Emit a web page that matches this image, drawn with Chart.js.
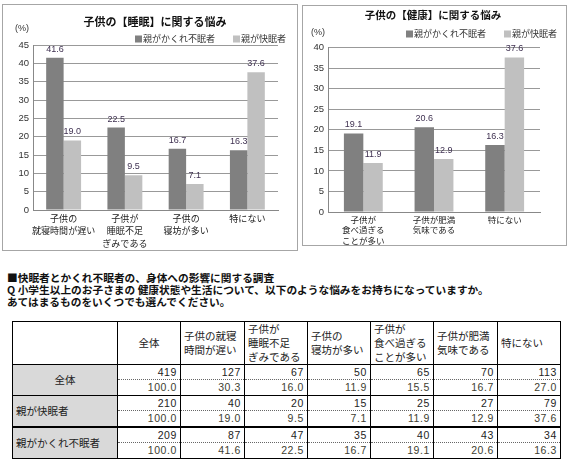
<!DOCTYPE html>
<html lang="ja">
<head>
<meta charset="utf-8">
<title>子供の悩み</title>
<script src="https://cdn.jsdelivr.net/npm/chart.js@4.4.1/dist/chart.umd.min.js"></script>
<style>
  body { margin: 0; width: 570px; height: 467px; background: #fff; position: relative; overflow: hidden;
         font-family: 'Liberation Sans', 'Noto Sans CJK JP', sans-serif; }
  .box { position: absolute; border: 1px solid #a6a6a6; background: #fff; }
  .box canvas { display: block; }
  #box1 { left: 2px; top: 4px; width: 294px; height: 245px; }
  #box2 { left: 302px; top: 5px; width: 263px; height: 239px; }
  .note { position: absolute; left: 7px; top: 272px; font-family: 'Noto Sans CJK JP', sans-serif;
          font-size: 10.7px; line-height: 12px; font-weight: bold; color: #111; white-space: nowrap; }
  #tbl { position: absolute; left: 12px; top: 321px; width: 548px; border-collapse: collapse; table-layout: fixed;
         font-size: 10.5px; color: #222; }
  #tbl td { border: 1px solid #000; padding: 0 3px; height: 14px; line-height: 13px; white-space: nowrap; }
  #tbl tr.head td { height: 40px; line-height: 14px; vertical-align: middle; }
  #tbl td.center { text-align: center; }
  #tbl td.side { background: #d9d9d9; }
  #tbl td.num { text-align: right; letter-spacing: 0.6px; }
  #tbl tr.cnt td.num { border-bottom: 1px dotted #666; }
  #tbl tr.pct td.num { border-top: 1px dotted #666; height: 15px; color: #404030; }
  #tbl tr.thick td { border-top: 2px solid #000; }
</style>
</head>
<body>
<div class="box" id="box1"><canvas id="sleepChart" width="294" height="245"></canvas></div>
<div class="box" id="box2"><canvas id="healthChart" width="263" height="239"></canvas></div>
<div class="note">■快眠者とかくれ不眠者の、身体への影響に関する調査<br>Q 小学生以上のお子さまの 健康状態や生活について、以下のような悩みをお持ちになっていますか。<br>あてはまるものをいくつでも選んでください。</div>
<table id="tbl"></table>
<script>
// データ
var seriesNames = ['親がかくれ不眠者', '親が快眠者'];
var seriesColors = ['#808080', '#c0c0c0'];

var sleepLabels = [['子供の', '就寝時間が遅い'], ['子供が', '睡眠不足', 'ぎみである'], ['子供の', '寝坊が多い'], '特にない'];
var sleepHidden = [41.6, 22.5, 16.7, 16.3];
var sleepGood = [19.0, 9.5, 7.1, 37.6];
var sleepMax = 45;

var healthLabels = [['子供が', '食べ過ぎる', 'ことが多い'], ['子供が肥満', '気味である'], '特にない'];
var healthHidden = [19.1, 20.6, 16.3];
var healthGood = [11.9, 12.9, 37.6];
var healthMax = 40;

var tickStep = 5;

var tableHead = ['全体', '子供の就寝<br>時間が遅い', '子供が<br>睡眠不足<br>ぎみである', '子供の<br>寝坊が多い',
                 '子供が<br>食べ過ぎる<br>ことが多い', '子供が肥満<br>気味である', '特にない'];
var groupNames = ['全体', '親が快眠者', '親がかくれ不眠者'];
var allCount = [419, 127, 67, 50, 65, 70, 113];
var allPct = [100.0, 30.3, 16.0, 11.9, 15.5, 16.7, 27.0];
var goodCount = [210, 40, 20, 15, 25, 27, 79];
var goodPct = [100.0, 19.0, 9.5, 7.1, 11.9, 12.9, 37.6];
var hiddenCount = [209, 87, 47, 35, 40, 43, 34];
var hiddenPct = [100.0, 41.6, 22.5, 16.7, 19.1, 20.6, 16.3];


// 棒の上の数値
var valueLabels = {
  id: 'valueLabels',
  afterDatasetsDraw: function(chart) {
    var ctx = chart.ctx;
    ctx.save();
    ctx.font = '9px "Liberation Sans"';
    ctx.fillStyle = '#3f3151';
    ctx.textAlign = 'center';
    ctx.textBaseline = 'bottom';
    chart.data.datasets.forEach(function(ds, i) {
      chart.getDatasetMeta(i).data.forEach(function(bar, j) {
        ctx.fillText(ds.data[j].toFixed(1), bar.x, bar.y - 4);
      });
    });
    ctx.restore();
  }
};

// 凡例と (%) 表示
var boxLegend = {
  id: 'boxLegend',
  afterDraw: function(chart, args, opts) {
    var ctx = chart.ctx;
    var sets = chart.data.datasets;
    ctx.save();
    ctx.font = '9px "Noto Sans CJK JP"';
    ctx.textBaseline = 'middle';
    var x = opts.right;
    for (var i = sets.length - 1; i >= 0; i--) {
      x -= ctx.measureText(sets[i].label).width;
      ctx.fillStyle = '#333';
      ctx.fillText(sets[i].label, x, opts.y);
      x -= 8;
      ctx.fillStyle = sets[i].backgroundColor;
      ctx.fillRect(x, opts.y - 3.5, 7, 7);
      x -= opts.gap;
    }
    ctx.fillStyle = '#333';
    ctx.font = '9px "Liberation Sans"';
    ctx.fillText('(%)', chart.chartArea.left + opts.unitDx, chart.chartArea.top + opts.unitDy);
    ctx.restore();
  }
};

function makeChart(id, labels, hidden, good, cfg) {
  return new Chart(document.getElementById(id), {
    type: 'bar',
    data: {
      labels: labels,
      datasets: [
        { label: seriesNames[0], data: hidden, backgroundColor: seriesColors[0] },
        { label: seriesNames[1], data: good, backgroundColor: seriesColors[1] }
      ]
    },
    options: {
      responsive: false,
      animation: false,
      categoryPercentage: cfg.catPct,
      barPercentage: 1,
      layout: { padding: { left: cfg.padLeft, right: cfg.padRight, top: 0, bottom: 0 } },
      scales: {
        x: {
          grid: { display: false, drawTicks: false },
          border: { color: '#888' },
          ticks: { color: '#222', padding: cfg.xPad, maxRotation: 0, autoSkip: false,
                   font: { family: 'Noto Sans CJK JP', size: cfg.xFont, lineHeight: cfg.xLine } },
          afterFit: function(a) { a.height = cfg.xHeight; }
        },
        y: {
          min: 0,
          max: cfg.yMax,
          grid: { color: '#999', drawTicks: false },
          border: { color: '#888' },
          ticks: { stepSize: tickStep, color: '#333', padding: 4, font: { family: 'Liberation Sans', size: 9.5 } },
          afterFit: function(a) { a.width = cfg.yWidth; }
        },
        yPad: {
          position: 'right',
          grid: { display: false, drawTicks: false },
          border: { display: false },
          ticks: { display: false },
          afterFit: function(a) { a.width = cfg.rightWidth; }
        }
      },
      plugins: {
        legend: { display: false },
        tooltip: { enabled: false },
        title: {
          display: true,
          text: cfg.title,
          color: '#111',
          font: { family: 'Noto Sans CJK JP', size: cfg.titleSize, weight: 'bold', lineHeight: 1.2 },
          padding: cfg.titlePad
        },
        boxLegend: cfg.legend
      }
    },
    plugins: [valueLabels, boxLegend]
  });
}

var sleepChart = makeChart('sleepChart', sleepLabels, sleepHidden, sleepGood, {
  title: '子供の【睡眠】に関する悩み', titleSize: 11, titlePad: { top: 10, bottom: 17 },
  yMax: sleepMax, catPct: 0.57, padLeft: 10, padRight: 0, yWidth: 20, rightWidth: 19,
  xFont: 9, xLine: 1.4, xPad: 2, xHeight: 40,
  legend: { right: 283, y: 34, gap: 18, unitDx: -18, unitDy: -17 }
});

var healthChart = makeChart('healthChart', healthLabels, healthHidden, healthGood, {
  title: '子供の【健康】に関する悩み', titleSize: 10.5, titlePad: { top: 3, bottom: 26 },
  yMax: healthMax, catPct: 0.55, padLeft: 0, padRight: 3, yWidth: 25, rightWidth: 23,
  xFont: 8.5, xLine: 1.25, xPad: 2, xHeight: 33,
  legend: { right: 254, y: 28, gap: 18, unitDx: -17, unitDy: -15 }
});


// 集計表
var rows = [
  [allCount, allPct],
  [goodCount, goodPct],
  [hiddenCount, hiddenPct]
];
var html = '<colgroup><col style="width:105px">';
var colW = [63, 64, 63, 63, 63, 64, 63];
colW.forEach(function(w) { html += '<col style="width:' + w + 'px">'; });
html += '</colgroup><tr class="head"><td></td>';
tableHead.forEach(function(h, i) {
  html += '<td' + (i === 0 ? ' class="center"' : '') + '>' + h + '</td>';
});
html += '</tr>';
rows.forEach(function(r, g) {
  html += '<tr class="cnt' + (g === 2 ? ' thick' : '') + '"><td rowspan="2" class="side' + (g === 0 ? ' center' : '') + '">' + groupNames[g] + '</td>';
  r[0].forEach(function(v) { html += '<td class="num">' + v + '</td>'; });
  html += '</tr><tr class="pct">';
  r[1].forEach(function(v) { html += '<td class="num">' + v.toFixed(1) + '</td>'; });
  html += '</tr>';
});
document.getElementById('tbl').innerHTML = html;
</script>
</body>
</html>
